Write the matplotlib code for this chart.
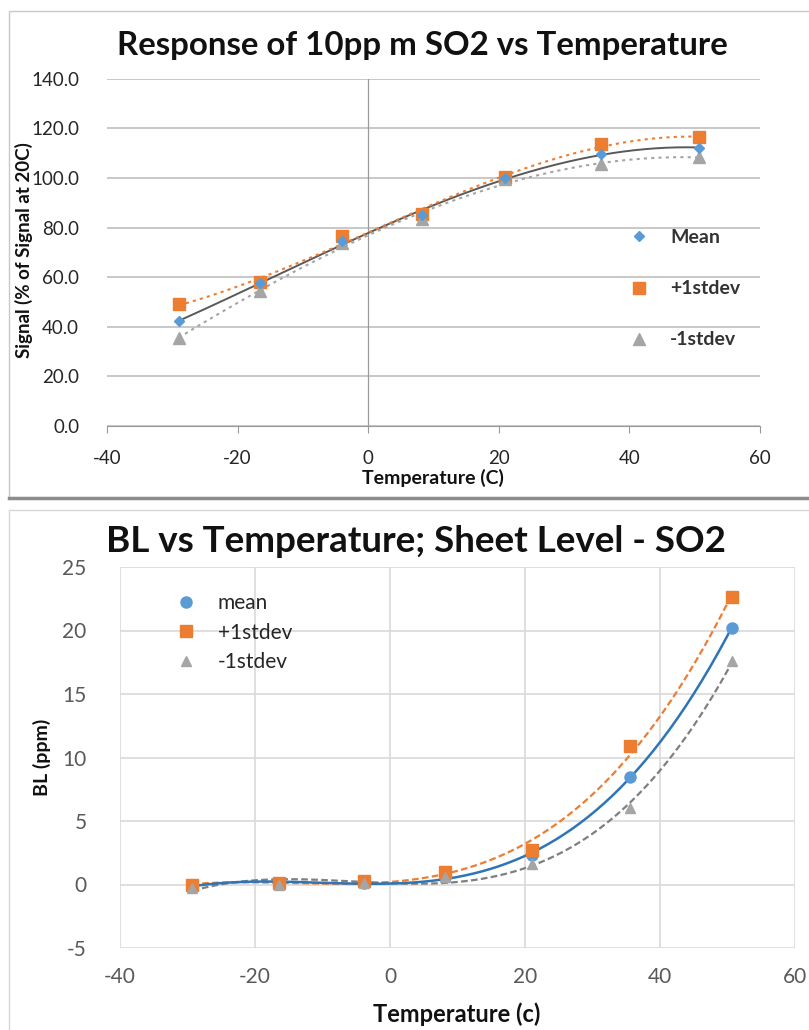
import numpy as np
import matplotlib
matplotlib.use('Agg')
import matplotlib.pyplot as plt
from matplotlib.patches import Rectangle

plt.rcParams['font.family'] = ['Lato', 'DejaVu Sans']
plt.rcParams['axes.unicode_minus'] = False

# top chart: response vs temperature
temp_top = [-29, -16.5, -4, 8.2, 21, 35.7, 50.7]
sig_mean = [42.3, 57.5, 74.4, 85.2, 100.1, 109.6, 112.1]
sig_plus = [49.0, 57.9, 76.6, 85.6, 100.3, 113.7, 116.3]
sig_minus = [35.6, 54.5, 73.7, 83.3, 99.5, 105.5, 108.3]

# bottom chart: baseline vs temperature
temp_bot = [-29.3, -16.5, -3.9, 8.1, 21, 35.6, 50.6]
bl_mean = [-0.1, 0.1, 0.1, 0.6, 2.3, 8.5, 20.2]
bl_plus = [0.0, 0.1, 0.3, 1.0, 2.7, 10.9, 22.6]
bl_minus = [-0.3, 0.0, 0.1, 0.6, 1.6, 6.0, 17.6]

blue = '#5B9BD5'
orange = '#ED7D31'
gray = '#A5A5A5'

fig = plt.figure(figsize=(8.09, 10.3), dpi=100)

# panel frames
fig.add_artist(Rectangle((9 / 809, 1 - 498 / 1030), 1.0, (498 - 11) / 1030,
                         transform=fig.transFigure, fill=False, edgecolor='#C8C8C8', lw=1))
fig.add_artist(plt.Line2D([9 / 809, 1], [1 - 498 / 1030] * 2, transform=fig.transFigure,
                          color='#8C8C8C', lw=2.5))
fig.add_artist(Rectangle((9 / 809, -0.01), 1.0, 1 - 510 / 1030 + 0.01,
                         transform=fig.transFigure, fill=False, edgecolor='#D8D8D8', lw=1))


def trend(ax, x, y, deg, **kw):
    c = np.polyfit(x, y, deg)
    xs = np.linspace(min(x), max(x), 200)
    ax.plot(xs, np.polyval(c, xs), **kw)


# ---- top chart
ax1 = fig.add_axes([107 / 809, 1 - 426 / 1030, (760 - 107) / 809, (426 - 78.7) / 1030])
ax1.set_xlim(-40, 60)
ax1.set_ylim(0, 140)
ax1.set_yticks(np.arange(0, 141, 20))
ax1.set_xticks(np.arange(-40, 61, 20))
ax1.yaxis.grid(True, color='#BFBFBF', lw=1.2)
ax1.set_axisbelow(True)
for s in ['top', 'right', 'left']:
    ax1.spines[s].set_visible(False)
ax1.spines['bottom'].set_color('#9A9A9A')
ax1.axvline(0, color='#9A9A9A', lw=0.9)
ax1.tick_params(axis='y', length=0, pad=20, labelsize=13.5)
ax1.tick_params(axis='x', length=5, color='#9A9A9A', pad=12, labelsize=13.5)
ax1.set_yticklabels([f'{v:.1f}' for v in np.arange(0, 141, 20)])
for lab in ax1.get_xticklabels() + ax1.get_yticklabels():
    lab.set_color('#262626')

trend(ax1, temp_top, sig_mean, 3, color='#595959', lw=1.4)
trend(ax1, temp_top, sig_plus, 3, color=orange, lw=1.5, ls=(0, (1.5, 2)))
trend(ax1, temp_top, sig_minus, 3, color=gray, lw=1.5, ls=(0, (1.5, 2)))
ax1.plot(temp_top, sig_plus, 's', color=orange, ms=9, label='+1stdev')
ax1.plot(temp_top, sig_minus, '^', color=gray, ms=8, label='-1stdev')
ax1.plot(temp_top, sig_mean, 'D', color=blue, ms=5.5, label='Mean')

h, l = ax1.get_legend_handles_labels()
order = [2, 0, 1]
leg1 = ax1.legend([h[i] for i in order], [l[i] for i in order], loc='center left',
                  bbox_to_anchor=(0.77, 0.395), frameon=False, fontsize=14,
                  labelspacing=1.75, handletextpad=1.0, handlelength=1.2)
for t in leg1.get_texts():
    t.set_fontweight('bold')
    t.set_color('#333333')

fig.text(422 / 809, 1 - 45 / 1030, 'Response of 10pp m SO2 vs Temperature', ha='center',
         va='center', fontsize=23.8, fontweight='bold', color='#111111')
fig.text(24 / 809, 1 - 250 / 1030, 'Signal (% of Signal at 20C)', rotation=90, ha='center',
         va='center', fontsize=13.5, fontweight='bold', color='#111111')
fig.text(433 / 809, 1 - 478 / 1030, 'Temperature (C)', ha='center', va='center',
         fontsize=14, fontweight='bold', color='#111111')

# ---- bottom chart
ax2 = fig.add_axes([120 / 809, 1 - 948 / 1030, (795 - 120) / 809, (948 - 567) / 1030])
ax2.set_xlim(-40, 60)
ax2.set_ylim(-5, 25)
ax2.set_xticks(np.arange(-40, 61, 20))
ax2.set_yticks(np.arange(-5, 26, 5))
ax2.grid(True, color='#D9D9D9', lw=1.2)
ax2.set_axisbelow(True)
for s in ax2.spines.values():
    s.set_visible(False)
ax2.tick_params(length=0, labelsize=15, labelcolor='#595959')
ax2.tick_params(axis='y', pad=24)
ax2.tick_params(axis='x', pad=14)

trend(ax2, temp_bot, bl_plus, 3, color=orange, lw=1.6, ls=(0, (3, 1.5)))
trend(ax2, temp_bot, bl_minus, 3, color='#7F7F7F', lw=1.6, ls=(0, (3, 1.5)))
trend(ax2, temp_bot, bl_mean, 3, color='#2E75B6', lw=1.8)
ax2.plot(temp_bot, bl_mean, 'o', color=blue, ms=8, label='mean')
ax2.plot(temp_bot, bl_plus, 's', color=orange, ms=8, label='+1stdev')
ax2.plot(temp_bot, bl_minus, '^', color=gray, ms=7, label='-1stdev')

leg2 = ax2.legend(loc='upper left', bbox_to_anchor=(0.055, 0.98), frameon=False,
                  fontsize=15, labelspacing=0.45, handletextpad=1.0, handlelength=1.0)
for t in leg2.get_texts():
    t.set_color('#262626')

fig.text(416 / 809, 1 - 542 / 1030, 'BL vs Temperature; Sheet Level - SO2', ha='center',
         va='center', fontsize=26.5, fontweight='bold', color='#111111')
fig.text(42 / 809, 1 - 757 / 1030, 'BL (ppm)', rotation=90, ha='center', va='center',
         fontsize=14, fontweight='bold', color='#111111')
fig.text(457 / 809, 1 - 1014 / 1030, 'Temperature (c)', ha='center', va='center',
         fontsize=17, fontweight='bold', color='#111111')

fig.savefig('out.png', dpi=100)
